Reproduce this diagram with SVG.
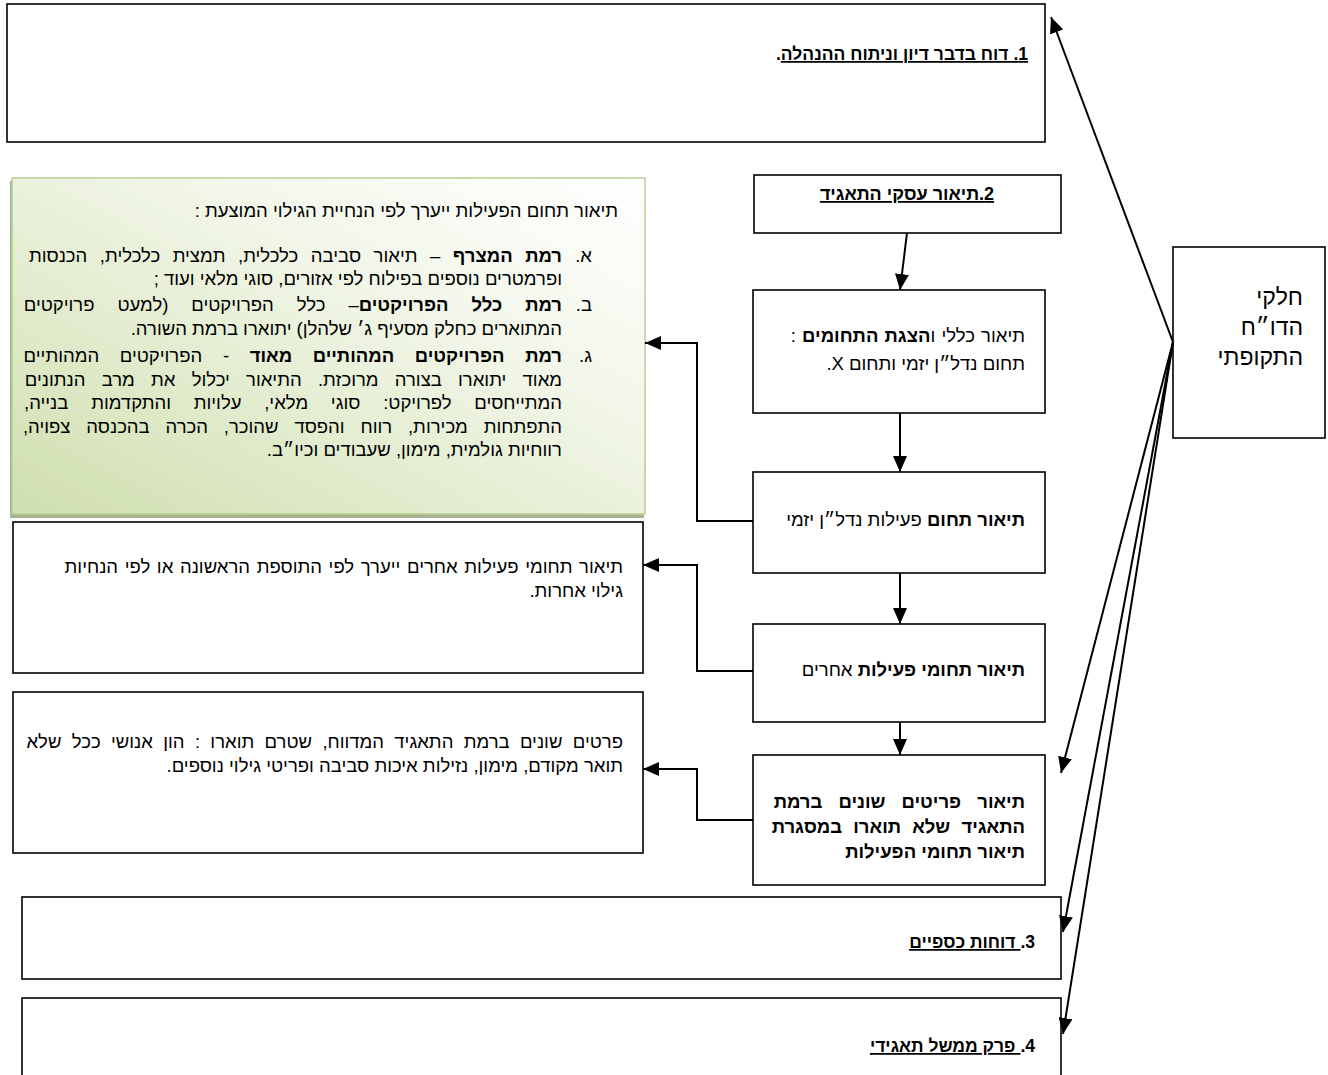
<svg xmlns="http://www.w3.org/2000/svg" width="1328" height="1075" viewBox="0 0 1328 1075">
<style>
text{font-family:"Liberation Sans","DejaVu Sans","Noto Sans",sans-serif;fill:#000;direction:rtl;font-size:18.5px}
.b{font-weight:bold}
.u{text-decoration:underline}
.h{font-size:17.5px;font-weight:bold}
.r{font-size:23px}
.box{fill:#fff;stroke:#000;stroke-width:1.6}
.ca{fill:none;stroke:#000;stroke-width:2;marker-end:url(#ah)}
</style>
<defs>
<marker id="ah" markerUnits="userSpaceOnUse" markerWidth="17" markerHeight="14" refX="16" refY="7" orient="auto"><path d="M0,0 L16,7 L0,14 z" fill="#000"/></marker>
<linearGradient id="gg" x1="1" y1="0" x2="0" y2="1"><stop offset="0" stop-color="#ffffff"/><stop offset="0.35" stop-color="#f3f7ea"/><stop offset="1" stop-color="#cfdfae"/></linearGradient>
</defs>

<g id="n1">
<rect class="box" x="7" y="4" width="1038" height="138"/>
<text class="h" x="1028" y="60"><tspan class="u">1. דוח בדבר דיון וניתוח ההנהלה</tspan>.</text>
</g>

<g id="n-right">
<rect class="box" x="1173" y="247" width="152" height="191"/>
<text class="r" x="1303" y="305">חלקי</text>
<text class="r" x="1303" y="335">הדו״ח</text>
<text class="r" x="1303" y="365">התקופתי</text>
</g>

<g id="n2">
<rect class="box" x="754" y="175" width="307" height="58"/>
<text class="h u" style="font-size:18px" x="907" y="200" text-anchor="middle">2.תיאור עסקי התאגיד</text>
</g>

<g id="n2a">
<rect class="box" x="753" y="290" width="292" height="123"/>
<text x="1025" y="342" style="word-spacing:1px">תיאור כללי ו<tspan class="b">הצגת התחומים</tspan> :</text>
<text x="1025" y="370">תחום נדל״ן יזמי ותחום X.</text>
</g>

<g id="n2b">
<rect class="box" x="753" y="472" width="292" height="101"/>
<text x="1025" y="526"><tspan class="b">תיאור תחום</tspan> פעילות נדל״ן יזמי</text>
</g>

<g id="n2c">
<rect class="box" x="753" y="624" width="292" height="98"/>
<text x="1025" y="676"><tspan class="b">תיאור תחומי  פעילות</tspan> אחרים</text>
</g>

<g id="n2d">
<rect class="box" x="753" y="755" width="292" height="130"/>
<text class="b" x="1025" y="808" style="word-spacing:11px">תיאור פריטים שונים ברמת</text>
<text class="b" x="1025" y="833" style="word-spacing:6px">התאגיד שלא תוארו במסגרת</text>
<text class="b" x="1025" y="858">תיאור תחומי הפעילות</text>
</g>

<g id="n-green">
<rect x="10" y="181" width="634" height="337" fill="#a5b38e"/>
<rect x="12" y="178" width="633" height="336" fill="url(#gg)" stroke="#b8cf92" stroke-width="1.5"/>
<text x="618" y="217">תיאור תחום הפעילות ייערך לפי הנחיית הגילוי המוצעת :</text>
<text x="592" y="262">א.</text>
<text x="562" y="262" style="word-spacing:7.4px"><tspan class="b">רמת המצרף</tspan> – תיאור סביבה כלכלית, תמצית כלכלית, הכנסות</text>
<text x="562" y="285">ופרמטרים נוספים בפילוח לפי אזורים, סוגי מלאי ועוד ;</text>
<text x="592" y="311">ב.</text>
<text x="562" y="311" style="word-spacing:17.8px"><tspan class="b">רמת כלל הפרויקטים</tspan>– כלל הפרויקטים (למעט פרויקטים</text>
<text x="562" y="335">המתוארים כחלק מסעיף ג׳ שלהלן) יתוארו ברמת השורה.</text>
<text x="592" y="362">ג.</text>
<text x="562" y="362" style="word-spacing:15.5px"><tspan class="b">רמת הפרויקטים המהותיים מאוד</tspan> - הפרויקטים המהותיים</text>
<text x="562" y="386" style="word-spacing:11.1px">מאוד יתוארו בצורה מרוכזת. התיאור יכלול את מרב הנתונים</text>
<text x="562" y="409" style="word-spacing:17.6px">המתייחסים לפרויקט: סוגי מלאי, עלויות והתקדמות בנייה,</text>
<text x="562" y="433" style="word-spacing:10.7px">התפתחות מכירות, רווח והפסד שהוכר, הכרה בהכנסה צפויה,</text>
<text x="562" y="456">רווחיות גולמית, מימון, שעבודים וכיו״ב.</text>
</g>

<g id="n-other">
<rect class="box" x="13" y="522" width="630" height="151"/>
<text x="623" y="573" style="word-spacing:1.5px">תיאור תחומי פעילות אחרים ייערך לפי התוספת הראשונה או לפי הנחיות</text>
<text x="623" y="597">גילוי אחרות.</text>
</g>

<g id="n-misc">
<rect class="box" x="13" y="692" width="630" height="161"/>
<text x="623" y="748" style="word-spacing:5.2px">פרטים שונים ברמת התאגיד המדווח, שטרם תוארו : הון אנושי ככל שלא</text>
<text x="623" y="772">תואר מקודם, מימון, נזילות איכות סביבה ופריטי גילוי נוספים.</text>
</g>

<g id="n3">
<rect class="box" x="22" y="897" width="1039" height="82"/>
<text class="h" x="1035" y="948">3.<tspan class="u"> דוחות כספיים</tspan></text>
</g>

<g id="n4">
<rect class="box" x="22" y="998" width="1039" height="90"/>
<text class="h" x="1035" y="1052">4.<tspan class="u"> פרק ממשל תאגידי</tspan></text>
</g>

<g id="connectors">
<line class="ca" x1="907" y1="233" x2="900" y2="290"/>
<line class="ca" x1="900" y1="413" x2="900" y2="472"/>
<line class="ca" x1="900" y1="573" x2="900" y2="624"/>
<line class="ca" x1="900" y1="722" x2="900" y2="755"/>
<polyline class="ca" points="753,521 697,521 697,343 645,343"/>
<polyline class="ca" points="753,671 697,671 697,565 643,565"/>
<polyline class="ca" points="753,820 697,820 697,769 643,769"/>
<line class="ca" x1="1173" y1="342" x2="1051" y2="17"/>
<line class="ca" x1="1173" y1="342" x2="1061" y2="773"/>
<line class="ca" x1="1173" y1="342" x2="1063" y2="932"/>
<line class="ca" x1="1173" y1="342" x2="1063" y2="1034"/>
</g>
</svg>
